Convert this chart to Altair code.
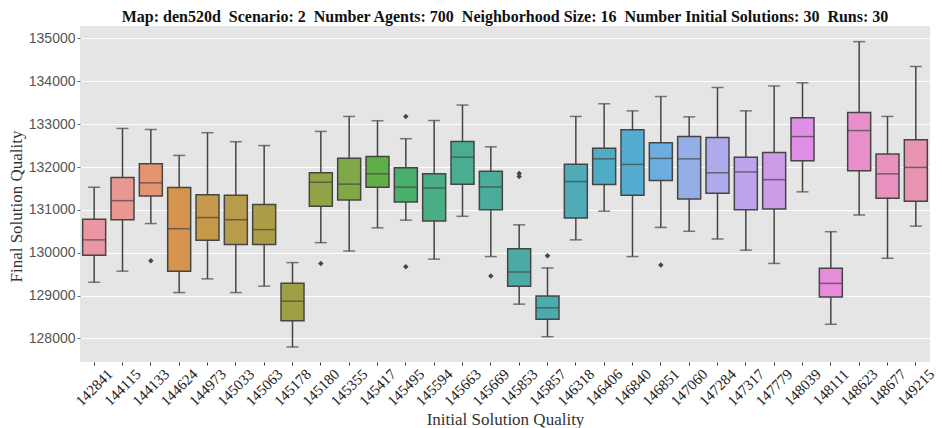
import math
import colorsys
import altair as alt
import pandas as pd

# ---------------- data ----------------
categories = ["142841", "144115", "144133", "144624", "144973", "145033", "145063", "145178",
              "145180", "145355", "145417", "145495", "145594", "145663", "145669", "145853",
              "145857", "146318", "146406", "146840", "146851", "147060", "147284", "147317",
              "147779", "148039", "148111", "148623", "148677", "149215"]
whisker_low = [129310, 129570, 130680, 129070, 129390, 129070, 129220, 127800, 130235, 130040,
               130580, 130760, 129850, 130850, 129910, 128800, 128040, 130300, 130970, 129910,
               130590, 130500, 130320, 130060, 129750, 131420, 128330, 130880, 129870, 130620]
q1 = [129940, 130770, 131325, 129565, 130290, 130190, 130190, 128410, 131085, 131230,
      131530, 131185, 130740, 131600, 131000, 129215, 128445, 130810, 131590, 131340,
      131685, 131255, 131390, 131000, 131020, 132145, 128965, 131910, 131270, 131200]
median = [130300, 131215, 131630, 130560, 130820, 130770, 130540, 128870, 131645, 131600,
          131840, 131530, 131510, 132230, 131535, 129550, 128715, 131660, 132190, 132060,
          132200, 132190, 131865, 131885, 131705, 132710, 129285, 132850, 131840, 131990]
q3 = [130780, 131755, 132075, 131520, 131350, 131340, 131125, 129285, 131865, 132205,
      132245, 131980, 131840, 132595, 131900, 130095, 128990, 132065, 132440, 132870,
      132565, 132710, 132690, 132230, 132340, 133150, 129635, 133270, 132305, 132635]
whisker_high = [131530, 132900, 132875, 132270, 132800, 132590, 132500, 129770, 132830, 133180,
                133080, 132660, 133085, 133445, 132470, 130650, 129645, 133180, 133475, 133310,
                133645, 133170, 133855, 133310, 133890, 133965, 130490, 134925, 133180, 134345]
outlier_cat = ["144133", "145180", "145495", "145495", "145669", "145853", "145853", "145857", "146851"]
outlier_val = [129815, 129750, 133180, 129675, 129455, 131850, 131780, 129930, 129715]

sp = "\u00a0\u00a0"
title_text = ("Map: den520d" + sp + "Scenario: 2" + sp + "Number Agents: 700" + sp +
              "Neighborhood Size: 16" + sp + "Number Initial Solutions: 30" + sp + "Runs: 30")

# ---------------- seaborn-like husl palette (style only) ----------------
M = [[3.2406, -1.5372, -0.4986], [-0.9689, 1.8758, 0.0415], [0.0557, -0.2040, 1.0570]]
REF_U, REF_V, LAB_E, LAB_K = 0.19784, 0.46834, 0.008856, 903.3


def max_chroma(L, H):
    hrad = math.radians(H)
    sinH, cosH = math.sin(hrad), math.cos(hrad)
    sub1 = (L + 16) ** 3 / 1560896.0
    sub2 = sub1 if sub1 > LAB_E else L / LAB_K
    result = float("inf")
    for m1, m2, m3 in M:
        top = (0.99915 * m1 + 1.05122 * m2 + 1.14460 * m3) * sub2
        rbottom = 0.86330 * m3 - 0.17266 * m2
        lbottom = 0.12949 * m3 - 0.38848 * m1
        bottom = (rbottom * sinH + lbottom * cosH) * sub2
        for t in (0.0, 1.0):
            C = L * (top - 1.05122 * t) / (bottom + 0.17266 * sinH * t)
            if 0 < C < result:
                result = C
    return result


def husl_to_rgb(H, S, L):
    C = max_chroma(L, H) / 100.0 * S
    U, V = math.cos(math.radians(H)) * C, math.sin(math.radians(H)) * C
    varY = ((L + 16) / 116.0) ** 3 if L > 8 else L / LAB_K
    varU = U / (13 * L) + REF_U
    varV = V / (13 * L) + REF_V
    Y = varY
    X = -(9 * Y * varU) / ((varU - 4) * varV - varU * varV)
    Z = (9 * Y - 15 * varV * Y - varV * X) / (3 * varV)
    out = []
    for row in M:
        c = row[0] * X + row[1] * Y + row[2] * Z
        c = 12.92 * c if c <= 0.0031308 else 1.055 * c ** (1 / 2.4) - 0.055
        out.append(min(max(c, 0.0), 1.0))
    return out


n = len(categories)
cols = []
lights = []
for i in range(n):
    h = ((i / n + 0.01) % 1) * 359
    r, g, b = husl_to_rgb(h, 0.9 * 99, 0.7 * 99)
    hh, ll, ss = colorsys.rgb_to_hls(r, g, b)
    r, g, b = colorsys.hls_to_rgb(hh, ll, ss * 0.75)
    lights.append(ll)
    cols.append("#%02x%02x%02x" % (round(r * 255), round(g * 255), round(b * 255)))
lum = round(min(lights) * 0.6 * 255)
gray = "#%02x%02x%02x" % (lum, lum, lum)

box_df = pd.DataFrame({"cat": categories, "lo": whisker_low, "q1": q1, "med": median,
                       "q3": q3, "hi": whisker_high, "color": cols})
out_df = pd.DataFrame({"cat": outlier_cat, "val": outlier_val})

ydom = [127450, 135290]
xenc = alt.X("cat:N", sort=categories, title="Initial Solution Quality",
             scale=alt.Scale(paddingInner=0, paddingOuter=0),
             axis=alt.Axis(labelAngle=-45, labelAlign="center", labelBaseline="middle",
                           labelFont="Liberation Serif", labelFontSize=15, labelColor="#222",
                           labelPadding=22, tickSize=3, tickColor="#333", domain=False,
                           grid=False, titleFont="Liberation Serif", titleFontSize=17,
                           titleFontWeight="normal", titleColor="#333", titlePadding=3))
yscale = alt.Scale(domain=ydom, nice=False, zero=False)
yaxis = alt.Axis(values=[128000, 129000, 130000, 131000, 132000, 133000, 134000, 135000],
                 format="d", labelFont="Liberation Sans", labelFontSize=14, labelColor="#555",
                 tickSize=3, tickColor="#666", labelPadding=2, domain=False, grid=True,
                 gridColor="white", gridWidth=1.2, titleFont="Liberation Serif",
                 titleFontSize=17, titleFontWeight="normal", titleColor="#333", titlePadding=3,
                 titleY=180)

base = alt.Chart(box_df)
whisk = base.mark_rule(color=gray, strokeWidth=1.5).encode(
    x=xenc, y=alt.Y("lo:Q", scale=yscale, axis=yaxis, title="Final Solution Quality"), y2="hi:Q")
cap_lo = base.mark_tick(color=gray, size=12, thickness=1.5).encode(x=xenc, y=alt.Y("lo:Q", scale=yscale))
cap_hi = base.mark_tick(color=gray, size=12, thickness=1.5).encode(x=xenc, y=alt.Y("hi:Q", scale=yscale))
box = base.mark_bar(stroke=gray, strokeWidth=1.5, width=23).encode(
    x=xenc, y=alt.Y("q1:Q", scale=yscale), y2="q3:Q", fill=alt.Fill("color:N", scale=None))
med = base.mark_tick(color=gray, size=23, thickness=1.5).encode(x=xenc, y=alt.Y("med:Q", scale=yscale))
outl = alt.Chart(out_df).mark_point(shape="diamond", filled=True, color=gray, size=30, opacity=1).encode(
    x=xenc, y=alt.Y("val:Q", scale=yscale))

chart = alt.layer(whisk, cap_lo, cap_hi, box, med, outl).properties(
    width=850, height=336,
    title=alt.TitleParams(title_text, font="Liberation Serif", fontSize=16, fontWeight="bold",
                          color="#111", anchor="middle", offset=1),
    padding={"left": 72, "top": 18, "right": 8, "bottom": 66},
    autosize=alt.AutoSizeParams(type="none"),
    background="white",
).configure_view(fill="#e5e5e5", stroke=None)

chart.save("out.html", embed_options={"renderer": "svg", "actions": False})
